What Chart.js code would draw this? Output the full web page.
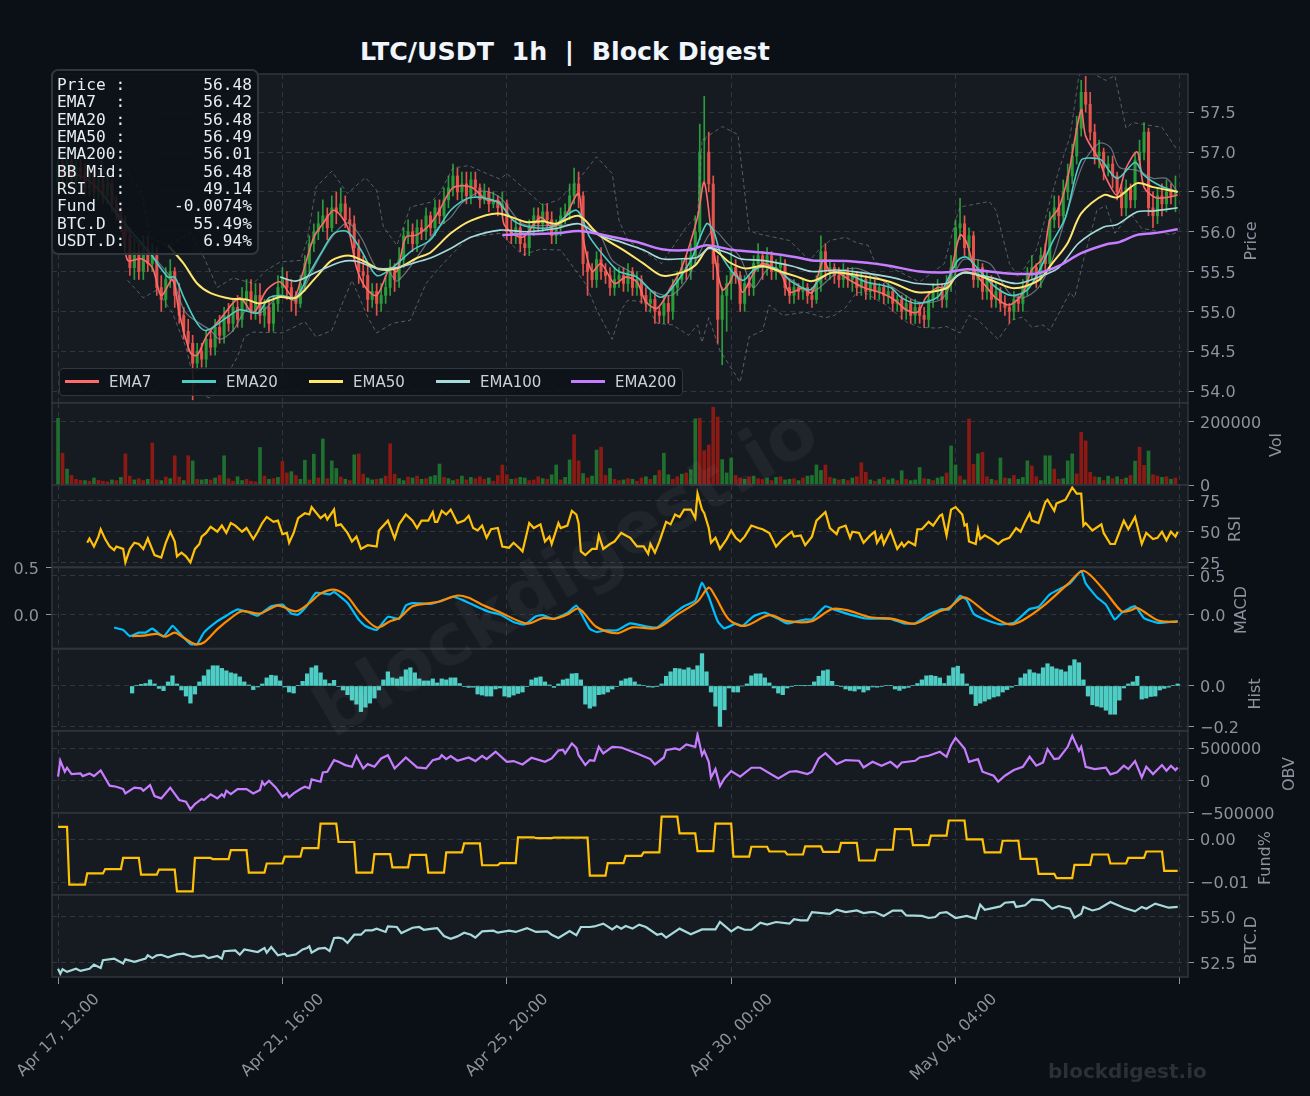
<!DOCTYPE html>
<html>
<head>
<meta charset="utf-8">
<script src="https://cdn.jsdelivr.net/npm/chart.js@4/dist/chart.umd.min.js"></script>
<style>
  html, body { margin: 0; padding: 0; background: #0b0f16; }
  #fig { position: relative; width: 1310px; height: 1096px; overflow: hidden; background: #0b0f16; font-family: "DejaVu Sans", sans-serif; }
  canvas { position: absolute; left: 0; }
  .txt { position: absolute; white-space: pre; }
  .ylab { color: #8b949e; font-size: 16px; transform: translate(-50%, -50%) rotate(-90deg); }
  #title { left: 360px; top: 37px; font-size: 25.3px; font-weight: bold; color: #f0f6fc; }
  #info { left: 51px; top: 69px; width: 195px; height: 174px; padding: 5px 5px 3px 4px; background: rgba(13,17,23,.88); border: 2px solid #30363d; border-radius: 7px;
          font: 16.2px/17.35px "DejaVu Sans Mono", monospace; color: #e6edf3; white-space: pre; text-align: left; }
  #legend { left: 59px; top: 368px; width: 622px; height: 26px; background: rgba(13,17,23,.85); border: 1px solid #30363d; border-radius: 4px; }
  #legend i { position: absolute; top: 11px; height: 3px; width: 34px; }
  #legend span { position: absolute; top: 4px; font-size: 15px; color: #c9d1d9; }
  #wm { left: 565px; top: 570px; font-size: 72px; font-weight: bold; color: rgba(255,255,255,.04); transform: translate(-50%, -50%) rotate(-31deg); }
  #wm2 { left: 1048px; top: 1059px; font-size: 20px; font-weight: bold; color: #2a3038; }
</style>
</head>
<body>
<div id="fig">
  <div id="title" class="txt">LTC/USDT  1h  |  Block Digest</div>
</div>
<script>
// tick labels
const xTickBars = [0, 100, 200, 300, 400, 500];
const xTickLabels = ['Apr 17, 12:00', 'Apr 21, 16:00', 'Apr 25, 20:00', 'Apr 30, 00:00', 'May 04, 04:00', ''];
const infoLines = ['Price :        56.48', 'EMA7  :        56.42', 'EMA20 :        56.48', 'EMA50 :        56.49', 'EMA200:        56.01',
  'BB Mid:        56.48', 'RSI   :        49.14', 'Fund  :     -0.0074%', 'BTC.D :       55.49%', 'USDT.D:        6.94%'];

// candles, one every 2 bars
const opens = [
56.6,56.85,56.7,56.9,56.65,56.8,56.75,56.55,56.75,56.5,56.65,56.45,56.6,56.35,56.25,56.1,55.95,55.55,55.75,55.5,55.8,55.6,55.7,55.3,55.15,
55.4,55.5,55.2,54.95,54.75,54.6,54.35,54.5,54.4,54.65,54.55,54.8,54.7,54.95,54.85,55.05,54.9,55.15,55.25,55.0,55.2,54.95,55.05,54.85,55.1,
55.3,55.4,55.3,55.15,55.1,55.35,55.6,55.85,56.0,56.1,56.2,56.05,56.3,56.25,56.35,56.15,56.1,55.8,55.5,55.45,55.15,55.25,55.1,55.2,55.3,
55.5,55.4,55.65,55.95,56.0,55.85,56.05,56.0,56.2,56.05,56.3,56.2,56.4,56.55,56.7,56.5,56.6,56.45,56.65,56.55,56.4,56.5,56.35,56.4,56.3,
56.35,56.0,55.95,56.05,55.85,55.8,56.05,56.2,56.1,56.25,56.15,55.95,56.05,56.2,56.25,56.45,56.6,56.45,55.6,55.5,55.4,55.65,55.5,55.45,55.3,
55.4,55.45,55.35,55.5,55.3,55.4,55.2,55.1,55.15,55.0,54.95,55.1,55.0,55.3,55.4,55.55,55.5,55.7,56.0,57.15,57.0,56.6,55.6,54.9,55.2,
55.35,55.55,55.45,55.1,55.35,55.3,55.6,55.7,55.55,55.7,55.5,55.55,55.6,55.3,55.2,55.3,55.25,55.3,55.2,55.15,55.35,55.75,55.5,55.55,55.45,
55.4,55.5,55.4,55.45,55.3,55.4,55.25,55.35,55.25,55.3,55.2,55.25,55.1,55.15,55.0,55.1,54.95,55.05,54.95,54.9,55.15,55.25,55.3,55.15,55.35,
55.55,56.05,56.1,55.8,55.95,55.4,55.55,55.25,55.4,55.15,55.25,55.1,55.05,55.0,55.15,55.1,55.3,55.45,55.55,55.4,55.7,55.6,56.15,56.3,56.2,
56.5,56.7,56.95,57.3,57.75,57.6,57.25,56.95,57.0,56.8,56.85,56.7,56.5,56.3,56.55,56.4,56.9,57.0,57.25,56.3,56.2,56.45,56.35,56.5,56.45];
const highs = [
56.95,56.95,57.0,56.95,56.9,56.9,56.85,56.85,56.8,56.75,56.7,56.7,56.65,56.45,56.35,56.2,56.05,55.9,55.85,55.95,55.95,55.85,55.8,55.45,55.55,
55.65,55.55,55.35,55.05,54.9,54.7,54.6,54.6,54.75,54.75,54.9,54.95,55.05,55.1,55.15,55.2,55.3,55.4,55.4,55.35,55.35,55.15,55.15,55.2,55.45,
55.55,55.5,55.4,55.25,55.45,55.7,55.95,56.1,56.25,56.4,56.3,56.45,56.5,56.55,56.45,56.3,56.2,55.9,55.7,55.6,55.35,55.35,55.35,55.45,55.65,
55.6,55.8,56.05,56.15,56.1,56.15,56.15,56.3,56.25,56.4,56.4,56.55,56.7,56.85,56.8,56.75,56.75,56.75,56.75,56.6,56.6,56.55,56.5,56.45,56.5,
56.4,56.15,56.15,56.15,55.95,56.15,56.3,56.3,56.35,56.35,56.25,56.15,56.3,56.35,56.6,56.8,56.75,56.5,55.75,55.6,55.75,55.8,55.6,55.55,55.55,
55.55,55.55,55.6,55.55,55.5,55.45,55.3,55.25,55.25,55.05,55.2,55.2,55.4,55.5,55.65,55.7,55.85,56.2,57.35,57.7,57.25,56.7,55.7,55.3,55.45,
55.75,55.65,55.5,55.45,55.45,55.7,55.85,55.75,55.8,55.75,55.65,55.7,55.65,55.4,55.4,55.35,55.4,55.35,55.3,55.45,55.95,55.85,55.65,55.6,55.55,
55.6,55.55,55.55,55.5,55.5,55.45,55.45,55.4,55.35,55.35,55.35,55.3,55.2,55.2,55.2,55.15,55.15,55.1,55.05,55.25,55.35,55.4,55.35,55.45,55.7,
56.15,56.42,56.2,56.05,56.0,55.65,55.6,55.5,55.45,55.35,55.3,55.2,55.1,55.25,55.2,55.4,55.55,55.7,55.6,55.8,55.85,56.25,56.45,56.45,56.65,
56.85,57.1,57.45,57.9,57.95,57.75,57.35,57.15,57.05,56.95,56.95,56.75,56.6,56.65,56.6,57.0,57.15,57.37,57.3,56.5,56.55,56.6,56.65,56.6,56.7];
const lows = [
56.45,56.6,56.6,56.55,56.55,56.65,56.45,56.45,56.4,56.4,56.35,56.35,56.25,56.15,56.0,55.8,55.45,55.4,55.4,55.4,55.5,55.5,55.2,55.0,55.05,
55.3,55.05,54.85,54.65,54.5,53.89,54.25,54.3,54.3,54.45,54.45,54.6,54.6,54.75,54.75,54.8,54.8,55.0,54.9,54.9,54.85,54.8,54.75,54.75,55.0,
55.2,55.15,55.0,54.95,55.05,55.25,55.5,55.75,55.9,56.0,55.9,56.0,56.1,56.2,56.05,55.95,55.65,55.35,55.3,55.0,55.05,54.95,55.0,55.1,55.2,
55.25,55.3,55.55,55.85,55.75,55.75,55.9,55.9,55.95,55.95,56.1,56.1,56.3,56.45,56.4,56.4,56.35,56.35,56.45,56.3,56.35,56.25,56.3,56.2,56.2,
55.9,55.85,55.85,55.75,55.7,55.7,55.95,56.0,56.0,56.05,55.85,55.85,55.95,56.1,56.15,56.35,56.3,55.45,55.2,55.3,55.3,55.4,55.35,55.2,55.2,
55.3,55.25,55.25,55.2,55.2,55.1,55.0,55.0,54.85,54.85,54.85,54.85,54.9,55.2,55.35,55.4,55.4,55.6,55.9,56.6,56.5,55.4,54.6,54.33,54.75,
55.15,55.35,55.0,55.0,55.2,55.2,55.5,55.4,55.45,55.4,55.4,55.5,55.2,55.1,55.1,55.15,55.15,55.1,55.05,55.1,55.25,55.4,55.4,55.35,55.3,
55.3,55.3,55.25,55.2,55.2,55.15,55.15,55.15,55.15,55.1,55.1,55.0,55.0,54.9,54.9,54.85,54.85,54.85,54.8,54.8,55.05,55.15,55.05,55.05,55.25,
55.45,55.9,55.7,55.65,55.3,55.3,55.15,55.15,55.05,55.05,55.0,54.95,54.85,54.9,55.0,55.0,55.2,55.4,55.3,55.3,55.5,55.5,56.05,56.05,56.1,
56.4,56.6,56.85,57.2,57.5,57.15,56.85,56.8,56.65,56.7,56.55,56.4,56.2,56.2,56.3,56.3,56.8,56.9,56.2,56.05,56.1,56.2,56.25,56.35,56.25];
const closes = [
56.85,56.7,56.9,56.65,56.8,56.75,56.55,56.75,56.5,56.65,56.45,56.6,56.35,56.25,56.1,55.95,55.55,55.75,55.5,55.8,55.6,55.7,55.3,55.15,55.4,
55.5,55.2,54.95,54.75,54.6,54.35,54.5,54.4,54.65,54.55,54.8,54.7,54.95,54.85,55.05,54.9,55.15,55.25,55.0,55.2,54.95,55.05,54.85,55.1,55.3,
55.4,55.3,55.15,55.1,55.35,55.6,55.85,56.0,56.1,56.2,56.05,56.3,56.25,56.35,56.15,56.1,55.8,55.5,55.45,55.15,55.25,55.1,55.2,55.3,55.5,
55.4,55.65,55.95,56.0,55.85,56.05,56.0,56.2,56.05,56.3,56.2,56.4,56.55,56.7,56.5,56.6,56.45,56.65,56.55,56.4,56.5,56.35,56.4,56.3,56.35,
56.0,55.95,56.05,55.85,55.8,56.05,56.2,56.1,56.25,56.15,55.95,56.05,56.2,56.25,56.45,56.6,56.45,55.6,55.5,55.4,55.65,55.5,55.45,55.3,55.4,
55.45,55.35,55.5,55.3,55.4,55.2,55.1,55.15,55.0,54.95,55.1,55.0,55.3,55.4,55.55,55.5,55.7,56.0,57.0,57.15,56.6,55.6,54.9,55.2,55.35,
55.55,55.45,55.1,55.35,55.3,55.6,55.7,55.55,55.7,55.5,55.55,55.6,55.3,55.2,55.3,55.25,55.3,55.2,55.15,55.35,55.75,55.5,55.55,55.45,55.4,
55.5,55.4,55.45,55.3,55.4,55.25,55.35,55.25,55.3,55.2,55.25,55.1,55.15,55.0,55.1,54.95,55.05,54.95,54.9,55.15,55.25,55.3,55.15,55.35,55.55,
56.05,56.1,55.8,55.95,55.4,55.55,55.25,55.4,55.15,55.25,55.1,55.05,55.0,55.15,55.1,55.3,55.45,55.55,55.4,55.7,55.6,56.15,56.3,56.2,56.5,
56.7,56.95,57.3,57.75,57.6,57.25,56.95,57.0,56.8,56.85,56.7,56.5,56.3,56.55,56.4,56.9,57.0,57.25,56.3,56.2,56.45,56.35,56.5,56.45,56.48];

// [bar, value]
const ema7 = [[0,56.75],[10,56.7],[19,56.5],[28,56.1],[31,55.64],[37,55.66],[42,55.55],[46,55.2],[51,55.4],[54,54.98],[59,54.48],[62,54.45],[66,54.68],[73,54.93],[81,55.17],[87,54.98],[93,55.27],[99,55.37],[105,55.17],[109,55.48],[114,55.93],[118,56.1],[123,56.27],[129,56.06],[133,55.55],[137,55.3],[142,55.2],[148,55.55],[151,55.5],[155,55.93],[160,55.96],[166,56.1],[170,56.27],[176,56.55],[184,56.56],[191,56.4],[197,56.37],[199,56.08],[207,55.93],[215,56.18],[220,56.06],[225,56.14],[232,56.48],[234,55.93],[238,55.5],[242,55.6],[248,55.35],[253,55.43],[258,55.37],[262,55.12],[267,55.04],[273,55.3],[278,55.55],[285,56.18],[288,56.62],[292,55.8],[296,55.27],[299,55.35],[302,55.5],[305,55.24],[310,55.48],[314,55.6],[322,55.48],[326,55.24],[332,55.29],[336,55.23],[341,55.64],[344,55.5],[348,55.48],[353,55.39],[359,55.3],[367,55.23],[373,55.14],[378,55.02],[383,54.99],[387,55.18],[392,55.3],[396,55.3],[402,55.96],[405,55.86],[409,55.48],[414,55.3],[418,55.17],[424,55.08],[430,55.23],[434,55.52],[439,55.68],[442,56.14],[446,56.3],[450,56.68],[456,57.53],[458,57.2],[464,56.9],[467,56.68],[472,56.46],[476,56.8],[481,57.0],[484,56.56],[489,56.43],[494,56.43],[499,56.46]];
const ema20 = [[19,56.5],[31,56.06],[41,55.73],[49,55.43],[52,55.43],[56,55.18],[62,54.85],[66,54.76],[75,54.92],[81,55.02],[89,54.98],[94,55.17],[99,55.2],[106,55.18],[112,55.48],[118,55.77],[123,55.98],[129,56.0],[135,55.77],[142,55.45],[149,55.55],[158,55.77],[166,55.9],[175,56.27],[184,56.43],[196,56.37],[203,56.14],[210,56.06],[220,56.06],[231,56.27],[237,55.93],[245,55.64],[250,55.5],[258,55.43],[268,55.18],[273,55.27],[282,55.64],[289,56.1],[292,56.02],[296,55.68],[305,55.39],[311,55.54],[320,55.54],[327,55.37],[335,55.27],[339,55.39],[344,55.48],[351,55.48],[360,55.37],[371,55.3],[376,55.17],[383,55.1],[392,55.18],[396,55.37],[401,55.64],[405,55.68],[411,55.5],[418,55.3],[425,55.2],[432,55.27],[438,55.55],[443,55.86],[449,56.18],[456,56.9],[463,56.92],[465,56.9],[472,56.67],[480,56.87],[484,56.71],[491,56.58],[499,56.5]];
const ema50 = [[49,55.83],[56,55.6],[62,55.35],[68,55.23],[77,55.16],[84,55.15],[90,55.1],[99,55.18],[106,55.17],[115,55.43],[122,55.64],[130,55.7],[137,55.62],[143,55.53],[151,55.54],[160,55.67],[166,55.74],[175,55.98],[184,56.14],[196,56.23],[209,56.12],[216,56.13],[222,56.1],[232,56.2],[241,55.96],[252,55.77],[261,55.6],[269,55.45],[277,55.48],[284,55.58],[290,55.8],[295,55.72],[299,55.62],[306,55.54],[314,55.57],[322,55.5],[329,55.44],[336,55.38],[344,55.48],[347,55.49],[357,55.45],[371,55.37],[383,55.24],[396,55.29],[400,55.43],[405,55.49],[416,55.39],[426,55.29],[437,55.39],[443,55.6],[450,55.86],[456,56.23],[466,56.46],[472,56.43],[481,56.61],[488,56.56],[499,56.5]];
const ema100 = [[99,55.43],[106,55.38],[115,55.49],[126,55.62],[133,55.63],[142,55.54],[151,55.55],[160,55.62],[166,55.67],[175,55.79],[184,55.93],[197,56.02],[209,56.0],[222,56.04],[232,56.1],[241,55.96],[252,55.86],[261,55.77],[269,55.66],[278,55.66],[285,55.68],[290,55.79],[298,55.74],[304,55.66],[314,55.64],[327,55.57],[336,55.5],[347,55.52],[357,55.49],[371,55.43],[383,55.35],[396,55.35],[403,55.48],[415,55.43],[427,55.35],[437,55.43],[446,55.55],[455,55.86],[466,56.06],[472,56.09],[481,56.25],[488,56.26],[499,56.3]];
const ema200 = [[198,55.96],[209,55.97],[222,55.98],[232,56.01],[243,55.96],[258,55.87],[269,55.78],[281,55.77],[289,55.83],[301,55.77],[317,55.73],[329,55.68],[336,55.64],[353,55.63],[369,55.58],[384,55.5],[396,55.49],[405,55.53],[415,55.5],[427,55.47],[437,55.48],[446,55.57],[456,55.73],[467,55.84],[473,55.87],[481,55.96],[488,55.98],[499,56.03]];
const bbUpper = [[19,57.02],[31,56.73],[37,56.52],[41,55.93],[49,55.83],[59,55.98],[65,55.68],[71,55.3],[78,55.42],[87,55.35],[93,55.52],[99,55.62],[108,55.64],[111,55.89],[115,56.56],[122,56.76],[129,56.48],[137,56.68],[142,56.52],[145,56.06],[151,55.83],[157,56.31],[166,56.37],[170,56.48],[176,56.8],[183,56.83],[191,56.73],[197,56.66],[200,56.73],[207,56.56],[216,56.33],[223,56.4],[231,56.62],[240,56.94],[247,56.73],[250,56.14],[254,55.89],[269,55.6],[280,56.06],[285,56.2],[287,57.15],[296,57.32],[303,57.22],[308,56.02],[311,55.98],[326,55.89],[335,55.64],[339,55.77],[344,55.89],[351,55.93],[356,55.86],[361,55.83],[364,55.62],[371,55.55],[384,55.37],[395,55.6],[400,56.14],[402,56.31],[415,56.38],[418,56.27],[424,55.6],[428,55.43],[436,55.77],[446,56.77],[451,57.19],[455,57.96],[458,58.02],[463,57.96],[467,57.9],[471,57.96],[476,57.3],[479,57.37],[492,57.31],[499,57.02]];
const bbLower = [[31,55.39],[38,55.17],[44,55.27],[51,54.98],[57,54.55],[62,53.97],[68,53.91],[74,54.14],[80,54.43],[83,54.68],[87,54.74],[100,54.73],[110,54.87],[115,54.68],[122,54.76],[127,55.12],[131,55.39],[138,54.93],[142,54.73],[149,54.85],[157,54.89],[164,55.35],[170,55.55],[176,55.73],[183,55.93],[197,55.98],[207,55.71],[215,55.78],[224,55.77],[235,55.35],[240,55.02],[247,54.65],[251,55.02],[254,55.14],[261,55.12],[267,54.85],[274,54.83],[281,54.7],[285,54.83],[287,54.61],[290,54.92],[295,54.51],[304,54.11],[308,54.68],[314,54.76],[317,55.08],[323,54.95],[333,54.99],[342,54.92],[346,54.95],[351,55.05],[356,55.24],[360,55.23],[369,55.08],[378,54.87],[384,54.8],[392,54.79],[396,54.81],[402,54.73],[406,54.95],[410,54.89],[419,54.65],[425,54.89],[430,54.93],[434,54.8],[439,54.83],[442,54.76],[451,55.24],[453,55.17],[457,55.64],[463,56.27],[467,56.33],[471,55.98],[478,56.23],[483,56.04],[488,56.02],[496,55.96],[499,56.0]];
const bbMid = [[19,56.9],[31,56.02],[42,55.7],[51,55.39],[57,54.98],[68,54.76],[72,54.65],[78,54.76],[84,55.02],[90,54.98],[99,55.2],[106,55.14],[115,55.6],[122,55.93],[129,56.11],[135,55.93],[142,55.54],[147,55.52],[151,55.38],[160,55.68],[169,56.04],[175,56.18],[180,56.36],[189,56.51],[197,56.43],[207,56.1],[218,56.08],[225,56.08],[232,56.1],[241,55.98],[247,55.64],[256,55.48],[264,55.27],[273,55.2],[280,55.39],[285,55.68],[292,56.02],[298,55.86],[304,55.68],[310,55.3],[317,55.54],[327,55.39],[335,55.24],[339,55.29],[347,55.48],[356,55.54],[365,55.43],[376,55.23],[383,55.12],[392,55.13],[396,55.23],[403,55.64],[411,55.64],[416,55.58],[424,55.23],[430,55.17],[437,55.3],[443,55.64],[451,56.36],[457,56.86],[464,57.11],[469,57.06],[473,56.81],[481,56.77],[488,56.67],[494,56.67],[499,56.5]];

// volume in thousands, one every 2 bars, negative = down bar
const volumes = [
210,-100,50,-30,-18,-15,14,-12,22,-15,-12,-10,16,-14,24,-98,-28,16,-20,-14,18,-132,-16,14,-25,
20,-92,-25,14,-92,76,-18,16,18,-16,22,-30,92,-20,-12,26,14,-18,-12,-10,118,-28,18,-20,24,
-74,-38,42,-30,18,78,-16,97,-22,145,-20,76,52,-25,18,-14,95,-98,-34,22,16,-18,20,-28,-130,
-34,20,14,-25,22,-28,18,-20,26,30,66,-24,20,14,-18,28,-16,24,-20,-26,-18,22,-12,-30,-63,
-32,18,-20,24,22,-14,-16,-26,20,-18,32,63,-16,24,79,-158,-76,36,-22,28,110,-119,-30,52,-18,
-14,16,-20,18,-12,-22,26,-18,30,-46,100,32,-18,-26,34,-38,48,208,-210,-108,-126,-245,-214,80,38,
85,-30,-22,18,-26,28,-20,-18,22,-14,24,-26,16,18,-20,14,-22,28,30,63,46,-63,-24,20,-16,
18,-14,22,-26,-70,-40,16,-12,18,-24,16,20,-14,45,-18,14,16,55,-20,18,-14,22,26,-38,123,
63,-28,16,-208,-65,98,-103,-26,18,-14,85,-22,20,-30,18,24,76,-60,-26,14,92,92,-50,-18,20,
76,98,-35,-166,-139,-40,-26,24,-14,28,-20,26,-18,22,-30,75,-119,-62,107,-32,-28,24,-26,18,-22];

const rsi = [[13,41],[14,44.5],[16,38],[18,46],[19,52],[21,44],[23,38],[25,35],[26,38],[29,36],[30,25],[32,36],[34,41],[36,40],[38,36],[40,44.5],[43,31],[46,29],[48,41],[50,50],[52,42],[53,30],[55,33],[57,30],[59,25],[61,36],[63,40],[64,46],[66,49],[68,54],[71,50],[73,55],[75,49],[77,57],[79,55],[82,50],[84,53],[87,44],[89,50],[91,57],[93,62],[96,58],[98,59],[100,48],[102,49],[103,41],[105,49],[107,61],[110,65],[112,64],[113,70],[117,61],[119,64],[120,60],[123,68],[124,55],[126,56],[129,49],[131,42],[133,46],[135,36],[138,39],[142,38],[143,51],[147,59],[150,44.5],[152,56],[155,64],[158,59],[160,53],[162,59],[165,59],[167,66],[168,58],[169,58],[171,67],[173,64],[175,68],[178,57],[181,59],[183,63],[185,53],[187,51],[189,55],[191,45],[193,52],[196,53],[198,38],[201,37],[203,41],[206,36],[207,34],[210,57],[212,53],[215,56],[217,42],[219,46],[220,40],[223,57],[224,53],[227,55],[229,67],[231,64],[232,57],[233,34],[235,31],[238,36],[240,36],[241,47],[243,36],[246,40],[248,42],[251,49],[255,45],[258,38],[261,38],[263,32],[264,40],[266,33],[268,42],[271,58],[273,56],[275,64],[277,62],[279,68],[282,68],[284,61],[285,81],[287,68],[288,65],[290,53],[291,41],[293,45],[295,36],[298,44],[300,51],[302,45],[304,42],[306,46],[309,55],[312,53],[314,52],[317,49],[320,38],[323,44],[327,50],[328,46],[331,47],[333,39],[336,46],[338,59],[342,66],[344,53],[347,48],[348,53],[351,55],[353,45],[354,50],[357,49],[359,41],[362,47],[364,50],[365,41],[367,47],[368,40],[371,51],[374,36],[376,41],[377,38],[379,42],[382,39],[383,52],[385,52],[388,58],[390,55],[393,63],[394,64],[396,47],[398,68],[400,70],[403,64],[404,55],[405,56],[406,42],[409,40],[410,52],[411,44],[413,47],[416,44],[419,40],[421,43],[424,45],[427,53],[429,50],[431,58],[433,65],[434,59],[437,57],[440,74],[441,76],[444,67],[445,73],[449,76],[452,86],[454,81],[456,81],[457,55],[458,57],[461,51],[465,56],[466,49],[469,40],[471,40],[475,59],[477,52],[480,62],[483,40],[485,49],[488,44],[490,45],[492,50],[494,43],[496,50],[498,46],[499,50]];
const macdLine = [[25,-.16],[29,-.19],[32,-.27],[36,-.225],[39,-.225],[42,-.175],[47,-.275],[51,-.14],[54,-.225],[59,-.37],[62,-.37],[65,-.225],[71,-.08],[75,-.01],[80,.07],[85,.03],[89,-.01],[95,.11],[100,.13],[104,.017],[107,.004],[111,.12],[115,.28],[121,.26],[123,.29],[129,.15],[134,-.06],[137,-.14],[142,-.19],[147,-.025],[152,-.05],[155,.12],[158,.15],[166,.14],[170,.17],[176,.23],[181,.18],[187,.1],[192,.04],[197,.004],[203,-.09],[208,-.12],[213,-.017],[216,-.004],[221,-.05],[227,.025],[231,.117],[233,.025],[237,-.175],[240,-.217],[244,-.196],[249,-.196],[255,-.108],[261,-.14],[267,-.16],[273,-.017],[279,.11],[284,.18],[287,.41],[290,.23],[294,-.08],[297,-.17],[302,-.11],[305,-.14],[310,-.017],[315,.03],[321,-.05],[325,-.108],[333,-.058],[336,-.058],[342,.11],[346,.067],[353,.004],[360,-.046],[371,-.05],[377,-.108],[382,-.108],[388,.004],[394,.075],[397,.067],[402,.24],[405,.19],[408,.017],[412,-.046],[420,-.12],[426,-.1],[433,.075],[437,.1],[442,.26],[451,.4],[456,.56],[458,.4],[463,.225],[467,.13],[471,-.058],[474,.025],[480,.11],[484,-.04],[490,-.1],[499,-.08]];
const macdSignal = [[33,-.27],[39,-.26],[44,-.24],[48,-.275],[52,-.225],[56,-.29],[61,-.37],[65,-.35],[71,-.18],[77,-.04],[82,.046],[90,.017],[98,.117],[106,.046],[112,.15],[117,.27],[123,.32],[129,.23],[134,.046],[142,-.16],[148,-.08],[152,-.04],[158,.11],[166,.15],[170,.17],[178,.245],[183,.217],[189,.13],[196,.046],[209,-.11],[216,-.04],[221,-.05],[227,.004],[232,.08],[240,-.154],[249,-.233],[256,-.158],[267,-.167],[276,.004],[285,.17],[290,.346],[293,.23],[299,-.058],[306,-.14],[317,-.004],[325,-.08],[336,-.08],[345,.075],[352,.058],[362,-.03],[372,-.05],[382,-.11],[393,.046],[397,.087],[403,.22],[406,.2],[415,.004],[424,-.12],[430,-.067],[439,.11],[450,.39],[457,.56],[466,.32],[474,.046],[478,.058],[481,.087],[490,-.067],[495,-.087],[499,-.087]];
// histogram from bar 33, one every 2 bars
const histStart = 33;
const histValues = [-.035,.002,.008,.012,.03,.01,-.012,-.023,.02,.05,.01,-.02,-.05,-.085,-.04,.02,.05,.08,.1,.1,.087,.075,.065,.06,.045,.02,.005,-.018,-.005,.01,.04,.053,.05,.025,-.005,-.03,-.035,.002,.023,.06,.09,.1,.065,.03,.012,.028,-.002,-.02,-.043,-.07,-.09,-.127,-.105,-.085,-.06,-.02,.03,.07,.04,.035,.045,.08,.09,.065,.035,.025,.025,.035,.015,.035,.03,.04,.04,.012,-.003,-.007,-.006,-.04,-.045,-.05,-.05,-.015,-.01,-.05,-.055,-.045,-.037,-.03,-.002,.03,.04,.045,.02,.005,-.007,.01,.03,.035,.06,.062,.03,-.09,-.11,-.1,-.043,-.04,-.03,-.015,-.002,.025,.035,.04,.02,.006,.002,-.005,-.006,-.003,.01,.048,.07,.087,.085,.08,.09,.08,.1,.16,.07,-.03,-.1,-.2,-.118,-.01,-.03,-.03,0,.01,.05,.06,.06,.04,.015,-.01,-.035,-.043,-.01,-.002,.002,.002,.001,.002,.02,.048,.075,.08,.023,.003,-.001,-.015,-.022,-.025,-.015,-.03,-.02,-.005,-.006,-.003,.002,.002,-.015,-.022,-.012,-.007,.002,.012,.03,.05,.052,.048,.04,.012,.05,.09,.098,.06,.01,-.04,-.097,-.085,-.075,-.065,-.055,-.05,-.03,-.018,-.006,.003,.04,.06,.08,.065,.06,.09,.11,.095,.085,.08,.07,.1,.13,.115,.03,-.05,-.093,-.1,-.105,-.12,-.14,-.14,-.07,-.01,.01,.02,.048,-.065,-.06,-.052,-.05,-.02,-.012,-.006,.002,.01];
// OBV in thousands
const obv = [[0,57],[1,304],[3,134],[4,196],[6,98],[10,108],[11,67],[14,108],[16,67],[19,155],[23,-82],[26,-98],[29,-134],[30,-201],[34,-113],[37,-124],[38,-160],[41,-72],[43,-242],[46,-278],[50,-113],[54,-304],[57,-330],[59,-448],[61,-366],[64,-288],[65,-304],[68,-216],[71,-278],[73,-216],[74,-252],[75,-160],[77,-211],[80,-134],[84,-134],[87,-201],[90,-149],[91,-21],[92,-72],[94,-5],[97,-108],[100,-252],[102,-201],[103,-263],[105,-201],[108,-134],[110,-98],[112,-124],[113,15],[117,-21],[118,124],[120,134],[123,314],[125,288],[128,237],[131,211],[133,376],[136,185],[138,252],[141,211],[144,340],[147,391],[150,185],[155,355],[160,201],[164,185],[167,314],[170,340],[171,391],[173,330],[175,376],[178,304],[183,355],[186,299],[189,381],[191,330],[195,443],[200,288],[203,299],[207,247],[211,350],[217,288],[220,340],[223,463],[225,474],[226,417],[229,572],[231,505],[232,391],[235,237],[237,314],[239,304],[241,520],[243,417],[247,520],[251,510],[258,417],[264,330],[266,247],[270,355],[271,469],[275,494],[277,474],[280,556],[284,520],[285,711],[287,391],[288,458],[290,288],[291,41],[293,175],[295,-88],[297,31],[300,144],[304,57],[309,196],[313,196],[321,31],[326,134],[329,144],[334,98],[336,134],[339,340],[342,422],[347,252],[351,314],[357,304],[359,201],[363,288],[367,227],[371,288],[374,201],[376,278],[382,304],[384,355],[388,381],[393,443],[396,366],[398,546],[400,659],[404,494],[406,288],[410,330],[412,134],[417,72],[419,-21],[422,72],[426,160],[430,211],[433,366],[436,227],[439,278],[441,484],[444,330],[446,340],[450,520],[452,690],[455,458],[456,520],[458,211],[462,175],[467,196],[469,93],[472,124],[475,227],[477,175],[480,299],[483,46],[485,211],[488,98],[492,237],[494,149],[496,227],[498,160],[499,201]];
// funding, one level every 8 bars after the first short one
const fundFirstChange = 5;
const fundValues = [.0028,-.0106,-.008,-.007,-.0044,-.0083,-.0071,-.0122,-.0044,-.0047,-.0026,-.0078,-.0057,-.0041,-.0021,.0036,-.0007,-.0078,-.0035,-.0066,-.0037,-.0078,-.0031,-.001,-.0061,-.0056,.0004,.0002,.0003,.0003,-.0085,-.0056,-.0039,-.0031,.0052,.0013,-.0028,.0036,-.0041,-.0018,-.0029,-.0036,-.0017,-.003,-.0009,-.005,-.0025,.0023,-.0014,.0008,.0043,-.0001,-.0031,-.0004,-.0046,-.0081,-.0091,-.006,-.0036,-.0057,-.0044,-.0029,-.0074];
const btcD = [[0,52.17],[1,51.9],[2,52.14],[4,52],[8,52.17],[10,52.05],[14,52.17],[16,52.39],[19,52.21],[20,52.63],[25,52.72],[29,52.45],[30,52.68],[34,52.54],[39,52.72],[40,52.9],[42,52.75],[44,52.9],[46,52.93],[49,52.79],[53,52.95],[56,52.99],[60,52.81],[65,52.9],[67,52.75],[71,52.86],[73,52.72],[74,53.12],[79,53.17],[81,52.93],[83,53.22],[89,53.08],[92,53.3],[93,53.04],[95,53.35],[98,52.9],[101,52.99],[102,52.86],[106,52.95],[109,53.22],[111,53.3],[112,53.39],[113,53.04],[116,53.26],[119,53.3],[121,53.13],[123,53.84],[125,53.86],[127,53.8],[129,53.57],[132,54.02],[135,54.02],[137,54.26],[140,54.26],[142,54.35],[146,54.17],[147,54.47],[151,54.44],[153,54.11],[158,54.4],[161,54.44],[163,54.29],[167,54.35],[169,54.38],[172,53.95],[175,53.8],[178,53.93],[181,54.13],[184,54.02],[186,53.86],[189,54.2],[194,54.24],[196,54.13],[201,54.24],[204,54.17],[209,54.38],[213,54.17],[218,54.2],[220,54.02],[223,53.84],[228,54.22],[231,53.99],[233,54.44],[237,54.44],[239,54.47],[243,54.62],[247,54.31],[249,54.49],[251,54.35],[253,54.49],[256,54.35],[259,54.57],[262,54.44],[267,54.02],[269,54.08],[271,53.86],[277,54.35],[282,54.04],[287,54.31],[293,54.31],[295,54.71],[300,54.2],[303,54.44],[306,54.29],[309,54.29],[313,54.67],[316,54.57],[320,54.71],[326,54.62],[328,54.86],[331,54.8],[334,54.8],[336,55.25],[344,55.16],[347,55.38],[351,55.25],[356,55.34],[359,55.2],[362,55.25],[364,55.25],[368,55.04],[372,55.33],[376,55.33],[378,55.07],[385,55.04],[388,54.93],[391,54.98],[393,55.2],[396,55.25],[400,54.93],[405,55.04],[409,54.89],[411,55.65],[413,55.38],[420,55.56],[422,55.76],[426,55.8],[427,55.53],[431,55.62],[434,55.94],[439,55.89],[443,55.43],[446,55.58],[451,55.43],[453,54.95],[456,55.16],[457,55.53],[461,55.34],[464,55.43],[469,55.8],[475,55.49],[480,55.29],[483,55.53],[485,55.43],[489,55.71],[495,55.49],[499,55.53]];

const GRID = '#30363d';
const TEXT = '#8b949e';
const PANEL = '#161b22';
const LEFT = 52, RIGHT = 1188;
const fig = document.getElementById('fig');

Chart.defaults.font.family = '"DejaVu Sans", sans-serif';
Chart.defaults.font.size = 16;
Chart.defaults.color = TEXT;
Chart.defaults.animation = false;

const pairs = (list) => list.map(p => ({ x: p[0], y: p[1] }));
const line = (label, list, color, width, extra) => Object.assign({
  type: 'line', label: label, data: pairs(list), borderColor: color, borderWidth: width,
  pointRadius: 0, tension: 0, order: 1,
}, extra || {});

// panel fill behind, frame on top
const framePlugin = {
  id: 'frame',
  beforeDraw(chart) {
    const a = chart.chartArea;
    chart.ctx.fillStyle = PANEL;
    chart.ctx.fillRect(a.left, a.top, a.right - a.left, a.bottom - a.top);
  },
  afterDraw(chart) {
    const a = chart.chartArea;
    chart.ctx.strokeStyle = GRID;
    chart.ctx.lineWidth = 1.5;
    chart.ctx.strokeRect(a.left, a.top, a.right - a.left, a.bottom - a.top);
  }
};

const makePanel = (o) => {
  const pad = 16;
  const last = !!o.last;
  const c = document.createElement('canvas');
  const h = last ? (1096 - o.top + pad) : (o.bottom - o.top + pad * 2);
  c.width = 1310;
  c.height = h;
  c.style.top = (o.top - pad) + 'px';
  fig.appendChild(c);

  const scales = {
    x: {
      type: 'linear', min: -2.7, max: 503.6, offset: false,
      afterBuildTicks: (s) => { s.ticks = xTickBars.map(v => ({ value: v })); },
      // rotated labels would otherwise push the plot area in from the left
      afterFit: (s) => { s.height = last ? 119 : 0; s.paddingLeft = 0; s.paddingRight = 0; },
      grid: { color: GRID, offset: false, drawTicks: last, tickLength: 7, tickColor: TEXT },
      border: { display: false, dash: [5, 4] },
      ticks: {
        display: last, autoSkip: false, minRotation: 45, maxRotation: 45, padding: 6, labelOffset: 39,
        callback: (v, i) => xTickLabels[i],
      },
    },
    y: {
      position: 'right', min: o.min, max: o.max,
      afterBuildTicks: (s) => { s.ticks = o.ticks.map(v => ({ value: v })); },
      afterFit: (s) => { s.width = 1310 - RIGHT; },
      grid: { color: GRID, tickLength: 6, tickColor: TEXT },
      border: { display: false, dash: [5, 4] },
      ticks: { autoSkip: false, padding: 6, labelOffset: 2, callback: (v, i) => o.tickText[i] },
    },
  };
  if (o.left) {
    scales.yLeft = {
      position: 'left', min: o.left.min, max: o.left.max,
      afterBuildTicks: (s) => { s.ticks = o.left.ticks.map(v => ({ value: v })); },
      afterFit: (s) => { s.width = LEFT; },
      grid: { drawOnChartArea: false, tickLength: 6, tickColor: TEXT },
      border: { display: false },
      ticks: { autoSkip: false, padding: 7, labelOffset: 2, callback: (v, i) => o.left.tickText[i] },
    };
  }

  return new Chart(c, {
    type: 'bar',
    data: { datasets: o.datasets },
    options: {
      responsive: false,
      devicePixelRatio: 1,
      layout: { padding: { left: o.left ? 0 : LEFT, right: 0, top: pad, bottom: last ? 0 : pad } },
      plugins: { legend: { display: false }, tooltip: { enabled: false } },
      scales: scales,
    },
    plugins: [framePlugin],
  });
};

const candleColor = (i) => closes[i] >= opens[i] ? '#2a9d3a' : '#e5534b';

makePanel({
  top: 74, bottom: 403, min: 53.85, max: 57.98,
  ticks: [54, 54.5, 55, 55.5, 56, 56.5, 57, 57.5],
  tickText: ['54.0', '54.5', '55.0', '55.5', '56.0', '56.5', '57.0', '57.5'],
  datasets: [
    { label: 'Wick', data: closes.map((c, i) => ({ x: i * 2, y: [lows[i], highs[i]] })), barThickness: 1, grouped: false, order: 11,
      backgroundColor: closes.map((c, i) => candleColor(i)) },
    { label: 'Body', data: closes.map((c, i) => ({ x: i * 2, y: [opens[i], c] })), barThickness: 2.4, minBarLength: 1, grouped: false, order: 10,
      backgroundColor: closes.map((c, i) => candleColor(i)) },
    line('BB Upper', bbUpper, 'rgba(139,148,158,.55)', 1, { borderDash: [4, 3], order: 9 }),
    line('BB Lower', bbLower, 'rgba(139,148,158,.55)', 1, { borderDash: [4, 3], order: 9 }),
    line('BB Mid', bbMid, 'rgba(139,148,158,.7)', 1.2, { tension: .3, order: 8 }),
    line('EMA7', ema7, '#ff6b6b', 1.6, { tension: .3, order: 5 }),
    line('EMA20', ema20, '#4ecdc4', 1.6, { tension: .3, order: 4 }),
    line('EMA50', ema50, '#ffe66d', 2, { tension: .3, order: 3 }),
    line('EMA100', ema100, '#a8dadc', 1.6, { tension: .3, order: 2 }),
    line('EMA200', ema200, '#c77dff', 2.5, { tension: .3, order: 1 }),
  ],
});

makePanel({
  top: 403, bottom: 485, min: 0, max: 258, ticks: [0, 200], tickText: ['0', '200000'],
  datasets: [{ label: 'Vol', data: volumes.map((v, i) => ({ x: i * 2, y: Math.abs(v) })), barThickness: 3, grouped: false,
    backgroundColor: volumes.map(v => v >= 0 ? '#1f6f2f' : '#8b1a14') }],
});

makePanel({
  top: 485, bottom: 567, min: 21.3, max: 88, ticks: [25, 50, 75], tickText: ['25', '50', '75'],
  datasets: [line('RSI', rsi, '#ffc107', 2.2)],
});

makePanel({
  top: 567, bottom: 649, min: -.425, max: .6, ticks: [0, .5], tickText: ['0.0', '0.5'],
  left: { min: -.354, max: .5, ticks: [0, .5], tickText: ['0.0', '0.5'] },
  datasets: [
    line('MACD', macdLine, '#00bfff', 2.2, { tension: .15, order: 2 }),
    line('Signal', macdSignal, '#ff8c00', 2.2, { tension: .3, order: 1 }),
  ],
});

makePanel({
  top: 649, bottom: 731, min: -.223, max: .183, ticks: [-.2, 0], tickText: ['\u22120.2', '0.0'],
  datasets: [{ label: 'Hist', data: histValues.map((v, i) => ({ x: histStart + i * 2, y: v })), barThickness: 3.6, grouped: false, backgroundColor: '#4ecdc4' }],
});

makePanel({
  top: 731, bottom: 813, min: -505, max: 765, ticks: [-500, 0, 500], tickText: ['\u2212500000', '0', '500000'],
  datasets: [line('OBV', obv, '#c77dff', 2.2)],
});

// each level holds until one bar before the next, so the riser leans like the reference
const fundLine = fundValues.flatMap((v, i) => {
  const from = i === 0 ? 0 : fundFirstChange + (i - 1) * 8;
  const to = Math.min(fundFirstChange + i * 8 - 1, 499);
  return [[from, v], [to, v]];
});

makePanel({
  top: 813, bottom: 895, min: -.01302, max: .00605, ticks: [-.01, 0], tickText: ['\u22120.01', '0.00'],
  datasets: [line('Fund%', fundLine, '#ffc107', 2.2)],
});

makePanel({
  top: 895, bottom: 977, min: 51.72, max: 56.18, ticks: [52.5, 55], tickText: ['52.5', '55.0'], last: true,
  datasets: [line('BTC.D', btcD, '#a8dadc', 2.2)],
});

// axis names read bottom to top, sitting just past each panel's tick labels
const yNames = ['Price', 'Vol', 'RSI', 'MACD', 'Hist', 'OBV', 'Fund%', 'BTC.D'];
const yNameX = [1250, 1275, 1234, 1240, 1254, 1288, 1264, 1250];
const yNameY = [241, 445, 529, 610, 694, 774, 858, 940];
yNames.forEach((n, i) => {
  const d = document.createElement('div');
  d.className = 'txt ylab';
  d.textContent = n;
  d.style.left = yNameX[i] + 'px';
  d.style.top = yNameY[i] + 'px';
  fig.appendChild(d);
});

const addDiv = (id, text) => {
  const d = document.createElement('div');
  d.id = id;
  d.className = 'txt';
  d.textContent = text;
  fig.appendChild(d);
  return d;
};
addDiv('wm', 'blockdigest.io');
addDiv('wm2', 'blockdigest.io');
addDiv('info', infoLines.join('\n'));

const legendNames = ['EMA7', 'EMA20', 'EMA50', 'EMA100', 'EMA200'];
const legendColors = ['#ff6b6b', '#4ecdc4', '#ffe66d', '#a8dadc', '#c77dff'];
const legendX = [5, 122, 249, 376, 511];
const legend = addDiv('legend', '');
legendNames.forEach((n, i) => {
  const sw = document.createElement('i');
  sw.style.left = legendX[i] + 'px';
  sw.style.background = legendColors[i];
  const t = document.createElement('span');
  t.textContent = n;
  t.style.left = (legendX[i] + 44) + 'px';
  legend.appendChild(sw);
  legend.appendChild(t);
});
</script>
</body>
</html>
